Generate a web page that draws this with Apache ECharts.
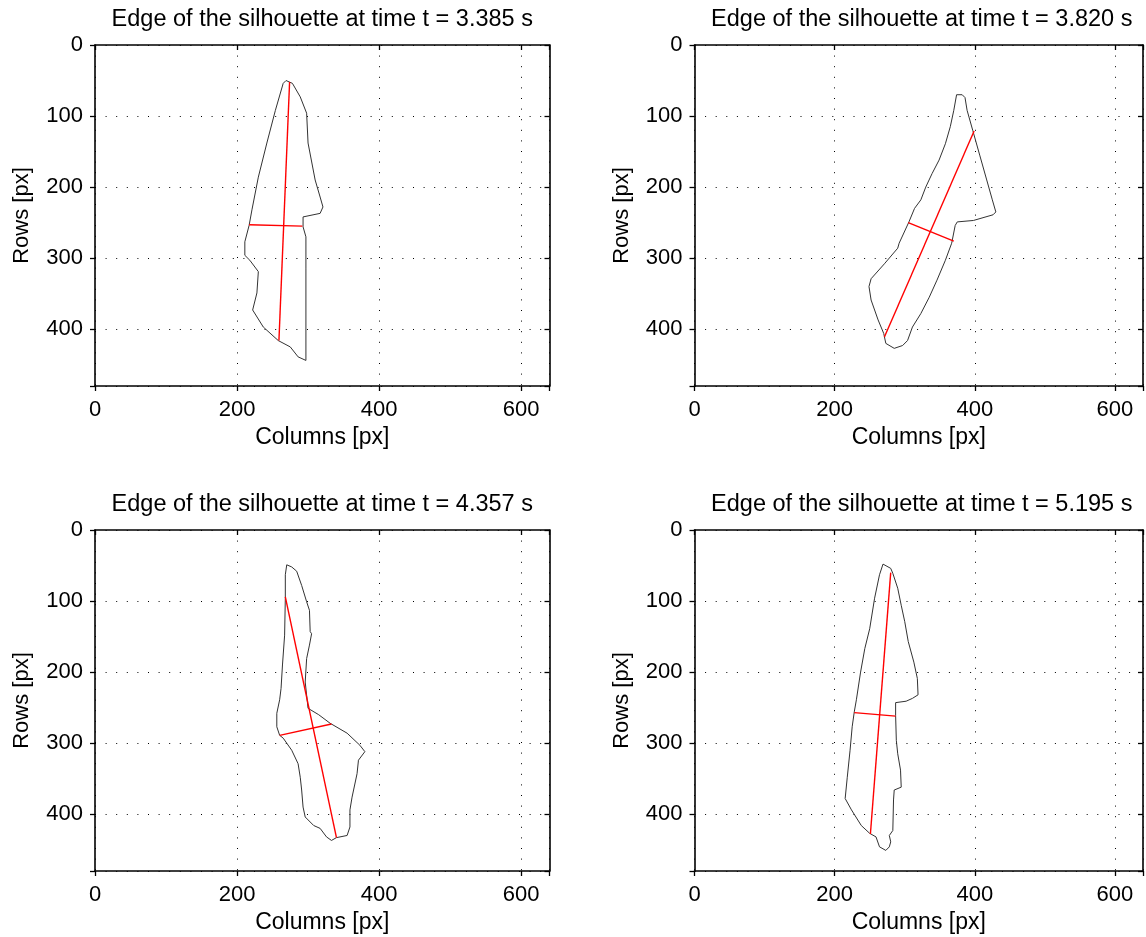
<!DOCTYPE html>
<html>
<head>
<meta charset="utf-8">
<script src="https://cdn.jsdelivr.net/npm/echarts@6/dist/echarts.min.js"></script>
<style>html,body{margin:0;padding:0;background:#fff}#c{width:1146px;height:937px}</style>
</head>
<body>
<div id="c"></div>
<script>
const times = ['3.385', '3.820', '4.357', '5.195'];
const xTicks = [0, 200, 400, 600];
const yTicks = [0, 100, 200, 300, 400];

const edge1 = [[269,50],[278,54],[289,73],[298,96],[300,138],[310,190],[317,214],[321,228],[317,237],[293,242],[293,256],[297,270],[297,314],[297,444],[296,446],[286,439],[275,425],[258,416],[237,397],[222,373],[228,349],[230,319],[218,303],[211,296],[211,277],[217,254],[221,232],[230,186],[242,138],[254,92],[265,54],[269,50]];
const long1 = [[274,52],[259,416]];
const cross1 = [[217,253],[292,255]];

const edge2 = [[374,70],[382,70],[386,74],[389,92],[397,120],[407,155],[417,190],[425,218],[430,235],[426,239],[398,247],[375,249],[372,254],[367,279],[358,303],[346,331],[335,355],[323,378],[311,397],[304,416],[297,423],[285,427],[273,420],[270,406],[262,387],[252,359],[249,340],[252,329],[271,308],[290,286],[292,279],[306,249],[314,230],[323,218],[330,200],[339,181],[349,162],[358,139],[365,115],[370,92],[374,70]];
const long2 = [[271,411],[399,121]];
const cross2 = [[305,250],[370,276]];

const edge3 = [[270,49],[277,52],[284,58],[291,78],[298,101],[302,113],[303,143],[305,146],[302,162],[298,181],[296,214],[300,251],[315,260],[331,272],[355,286],[373,303],[380,312],[371,324],[369,343],[362,376],[359,394],[359,418],[355,430],[340,433],[333,437],[326,432],[317,420],[308,416],[296,404],[293,390],[291,366],[289,348],[286,329],[277,310],[265,293],[260,289],[256,277],[256,258],[260,239],[262,223],[264,190],[267,148],[268,96],[268,63],[270,49]];
const long3 = [[268,94],[340,433]];
const cross3 = [[260,289],[333,273]];

const edge4 = [[269,48],[280,54],[283,61],[290,82],[295,106],[300,129],[305,157],[313,186],[318,209],[319,232],[311,237],[302,241],[287,243],[287,261],[288,296],[290,315],[294,338],[295,362],[285,366],[284,380],[283,423],[278,430],[280,439],[278,446],[273,451],[264,446],[259,432],[250,427],[238,416],[224,394],[215,378],[218,348],[222,310],[225,277],[228,256],[231,239],[237,200],[243,167],[250,139],[257,96],[264,63],[269,48]];
const long4 = [[280,60],[251,428]];
const cross4 = [[228,257],[287,262]];

const edges = [edge1, edge2, edge3, edge4];
const longs = [long1, long2, long3, long4];
const crosses = [cross1, cross2, cross3, cross4];

const panels = [
  {left: 95, top: 45},
  {left: 694.5, top: 45},
  {left: 95, top: 530},
  {left: 694.5, top: 530}
];
const W = 454.5, H = 341;
const FONT = 'Liberation Sans, Arial, sans-serif';
const FS = 22;

const grid = [], xAxis = [], yAxis = [], series = [], title = [];
const dotted = {show: true, lineStyle: {color: '#000', width: 1, type: [1, 9.6]}};
const axLine = {show: true, onZero: false, lineStyle: {color: '#000', width: 1.6}};

panels.forEach((p, i) => {
  grid.push({left: p.left, top: p.top, width: W, height: H, containLabel: false});
  title.push({
    text: 'Edge of the silhouette at time t = ' + times[i] + ' s',
    left: p.left + W / 2 - 5, top: p.top - 42, textAlign: 'center',
    textStyle: {fontFamily: FONT, fontSize: 23.5, fontWeight: 'normal', color: '#000'}
  });
  xAxis.push({
    type: 'value', gridIndex: i, position: 'bottom', min: 0, max: 640, interval: 200,
    axisLine: axLine,
    axisTick: {show: true, inside: false, length: 5, lineStyle: {color: '#000', width: 1.3}},
    axisLabel: {show: true, margin: 13, fontFamily: FONT, fontSize: FS, color: '#000',
      formatter: v => xTicks.includes(v) ? String(v) : ''},
    splitLine: dotted,
    name: 'Columns [px]', nameLocation: 'middle', nameGap: 40,
    nameTextStyle: {fontFamily: FONT, fontSize: 23, color: '#000'}
  });
  xAxis.push({
    type: 'value', gridIndex: i, position: 'top', min: 0, max: 640, interval: 200,
    axisLine: axLine,
    axisTick: {show: true, inside: true, length: 5, lineStyle: {color: '#000', width: 1.3}},
    axisLabel: {show: false}, splitLine: {show: false}
  });
  yAxis.push({
    type: 'value', gridIndex: i, position: 'left', inverse: true, min: 0, max: 480, interval: 100,
    axisLine: axLine,
    axisTick: {show: true, inside: false, length: 5, lineStyle: {color: '#000', width: 1.3}},
    axisLabel: {show: true, margin: 12, fontFamily: FONT, fontSize: FS, color: '#000',
      formatter: v => yTicks.includes(v) ? String(v) : ''},
    splitLine: dotted,
    name: 'Rows [px]', nameLocation: 'middle', nameGap: 62, nameRotate: 90,
    nameTextStyle: {fontFamily: FONT, fontSize: 22, color: '#000'}
  });
  yAxis.push({
    type: 'value', gridIndex: i, position: 'right', inverse: true, min: 0, max: 480, interval: 100,
    axisLine: axLine,
    axisTick: {show: true, inside: true, length: 5, lineStyle: {color: '#000', width: 1.3}},
    axisLabel: {show: false}, splitLine: {show: false}
  });
  const common = {type: 'line', xAxisIndex: 2 * i, yAxisIndex: 2 * i, showSymbol: false, symbol: 'none', silent: true, animation: false};
  series.push(Object.assign({}, common, {data: edges[i], lineStyle: {color: '#333', width: 1}}));
  series.push(Object.assign({}, common, {data: longs[i], lineStyle: {color: '#ff0000', width: 1.4}}));
  series.push(Object.assign({}, common, {data: crosses[i], lineStyle: {color: '#ff0000', width: 1.4}}));
});

const chart = echarts.init(document.getElementById('c'), null, {renderer: 'canvas'});
chart.setOption({animation: false, backgroundColor: '#fff', title, grid, xAxis, yAxis, series});
</script>
</body>
</html>
